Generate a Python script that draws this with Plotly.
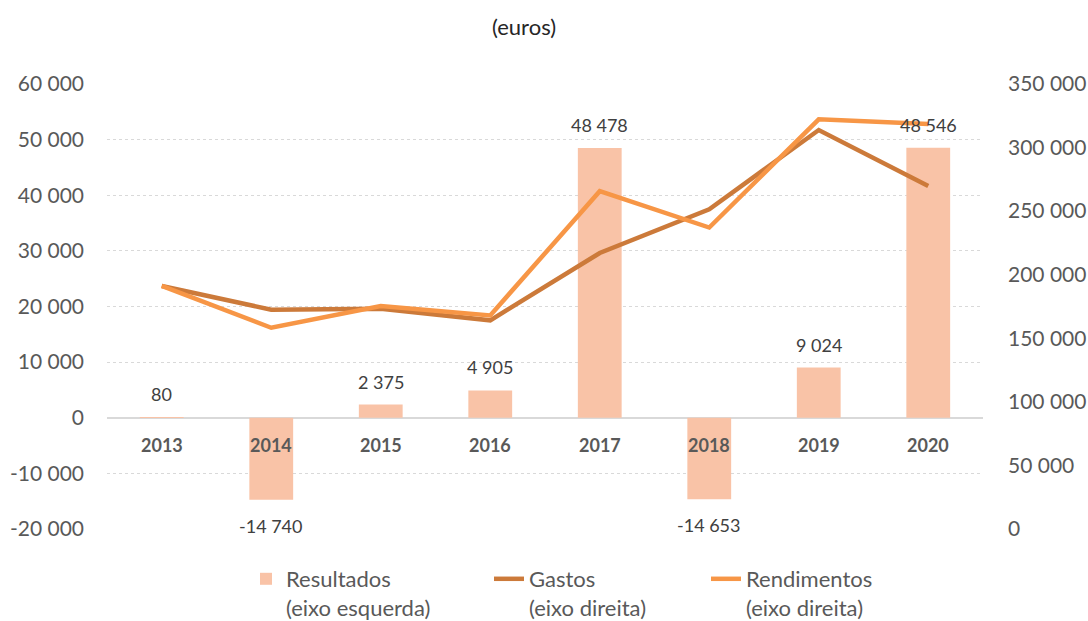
import plotly.graph_objects as go

years = ["2013", "2014", "2015", "2016", "2017", "2018", "2019", "2020"]
resultados = [80, -14740, 2375, 4905, 48478, -14653, 9024, 48546]
gastos = [191100, 172500, 173300, 164100, 217100, 251500, 313800, 269700]
rendimentos = [191200, 158300, 175400, 168000, 265700, 237100, 322200, 318500]

left_ticks = [-20000, -10000, 0, 10000, 20000, 30000, 40000, 50000, 60000]
right_ticks = [0, 50000, 100000, 150000, 200000, 250000, 300000, 350000]


def fmt(v):
    return f"{v:,}".replace(",", " ")


FONT = "Lato"
BAR_C = "#F9C3A7"
GASTOS_C = "#CC7A3A"
REND_C = "#F79646"

W, H = 1088, 621
ML, MT = 107, 84
PW, PH = 876, 445
MR, MB = W - ML - PW, H - MT - PH


def px_x(px):
    return (px - ML) / PW


def px_y(py):
    return (MT + PH - py) / PH


fig = go.Figure()
fig.add_trace(go.Bar(
    x=years, y=resultados, name="Resultados<br>(eixo esquerda)",
    marker=dict(color=BAR_C, line=dict(width=0)), yaxis="y", legend="legend",
))
fig.add_trace(go.Scatter(
    x=years, y=gastos, name="Gastos<br>(eixo direita)", mode="lines",
    line=dict(color=GASTOS_C, width=4.5), yaxis="y2", legend="legend2",
))
fig.add_trace(go.Scatter(
    x=years, y=rendimentos, name="Rendimentos<br>(eixo direita)", mode="lines",
    line=dict(color=REND_C, width=4.5), yaxis="y2", legend="legend3",
))

annotations = []
for i, v in enumerate(resultados):
    annotations.append(dict(
        x=i, y=v, xref="x", yref="y", text=fmt(v), showarrow=False,
        yanchor="middle", yshift=23 if v >= 0 else -26,
        font=dict(family=FONT, size=18, color="#404040"),
    ))
for i, yr in enumerate(years):
    annotations.append(dict(
        x=i, y=0, xref="x", yref="y", text=f"<b>{yr}</b>", showarrow=False,
        yanchor="middle", yshift=-27,
        font=dict(family=FONT, size=18, color="#595959"),
    ))
annotations.append(dict(
    x=px_x(524), y=px_y(27), xref="paper", yref="paper", text="(euros)",
    showarrow=False, xanchor="center", yanchor="middle",
    font=dict(family=FONT, size=22, color="#262626"),
))

leg_common = dict(
    orientation="v", xanchor="left", yanchor="top", y=px_y(558),
    font=dict(family=FONT, size=22, color="#595959"),
    valign="top", bgcolor="rgba(0,0,0,0)",
)

fig.update_layout(
    width=W, height=H,
    margin=dict(l=ML, r=MR, t=MT, b=MB, autoexpand=False),
    plot_bgcolor="white", paper_bgcolor="white",
    bargap=0.6,
    showlegend=True,
    legend=dict(x=px_x(287 - 41), **leg_common),
    legend2=dict(x=px_x(530 - 41), **leg_common),
    legend3=dict(x=px_x(747 - 41), **leg_common),
    xaxis=dict(
        type="category", range=[-0.5, 7.5], showticklabels=False,
        showgrid=False, zeroline=False, showline=False, ticks="",
    ),
    yaxis=dict(
        range=[-20000, 60000], tickvals=left_ticks,
        ticktext=[fmt(v) for v in left_ticks],
        showgrid=True, gridcolor="#D9D9D9", griddash="dot", gridwidth=1,
        zeroline=True, zerolinecolor="#D9D9D9", zerolinewidth=2,
        showline=False, ticks="", ticklabelstandoff=22,
        tickfont=dict(family=FONT, size=21, color="#595959"),
    ),
    yaxis2=dict(
        range=[0, 350000], tickvals=right_ticks,
        ticktext=[fmt(v) for v in right_ticks],
        overlaying="y", side="right", showgrid=False, zeroline=False,
        showline=False, ticks="", ticklabelstandoff=24,
        tickfont=dict(family=FONT, size=21, color="#595959"),
    ),
    annotations=annotations,
)

fig.write_html(
    "out.html",
    config={"displayModeBar": False},
    post_script="document.body.style.margin='0';document.body.style.overflow='hidden';",
)
